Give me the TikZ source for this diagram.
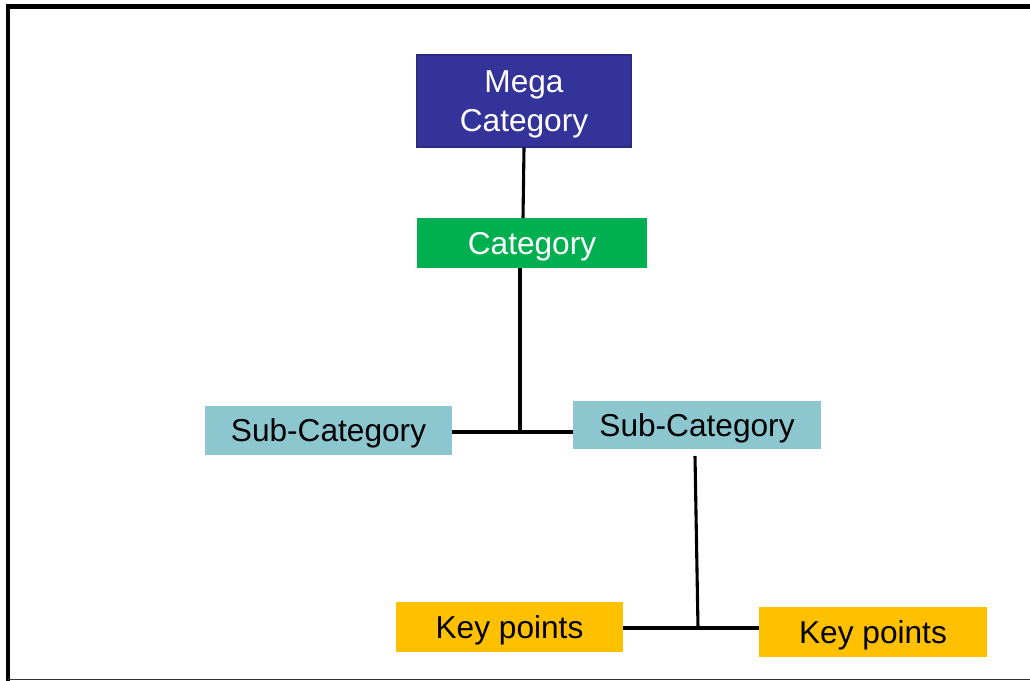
\documentclass[tikz,border=0pt]{standalone}
\usepackage{fontspec}
\setmainfont{Liberation Sans}
\usepackage{tikz}
\usetikzlibrary{calc}

\definecolor{megablue}{HTML}{333399}
\definecolor{megaedge}{HTML}{2B2B85}
\definecolor{catgreen}{HTML}{00B050}
\definecolor{subaqua}{HTML}{8CC6CE}
\definecolor{keygold}{HTML}{FFC000}

\tikzset{
	box/.style = {rectangle, inner sep = 0pt, align = center, text depth = 0pt,
		font = \fontsize{22.5}{27.5}\selectfont},
	link/.style = {line width = 2.2pt}
}

\begin{document}
\begin{tikzpicture}[x = 0.025cm, y = -0.025cm]
				\useasboundingbox (0, 0) rectangle (1030, 681);

				% frame
				\draw[line width = 3.5pt] (8, 681) -- (8, 6.5) -- (1030, 6.5);
				\draw[line width = 0.8pt, black!80] (8, 679.5) -- (1030, 679.5);

				% boxes
				\node[box, fill = megablue, draw = megaedge, line width = 1pt, text = white,
					minimum width = 5.35cm, minimum height = 2.3cm](mega) at (524, 101) {Mega\\Category};
				\node[box, fill = catgreen, text = white,
					minimum width = 5.75cm, minimum height = 1.25cm](cat) at (532, 243) {Category};
				\node[box, fill = subaqua,
					minimum width = 6.175cm, minimum height = 1.225cm](subl) at (328.5, 430.5) {Sub-Category};
				\node[box, fill = subaqua,
					minimum width = 6.2cm, minimum height = 1.2cm](subr) at (697, 425) {Sub-Category};
				\node[box, fill = keygold,
					minimum width = 5.675cm, minimum height = 1.25cm](keyl) at (509.5, 627) {Key points};
				\node[box, fill = keygold,
					minimum width = 5.7cm, minimum height = 1.25cm](keyr) at (873, 632) {Key points};

				% junctions
				\coordinate[](j1) at (520, 432);
				\coordinate[](j2) at (698, 628);
				\coordinate[](s2) at (695, 456);

				\draw[link] (mega.south) -- (523, 218);
				\draw[link] (cat.south -| j1) -- (j1);
				\draw[link] (subl.east |- j1) -- (subr.west |- j1);
				\draw[link] (s2) -- (j2);
				\draw[link] (keyl.east |- j2) -- (keyr.west |- j2);
			\end{tikzpicture}
\end{document}
